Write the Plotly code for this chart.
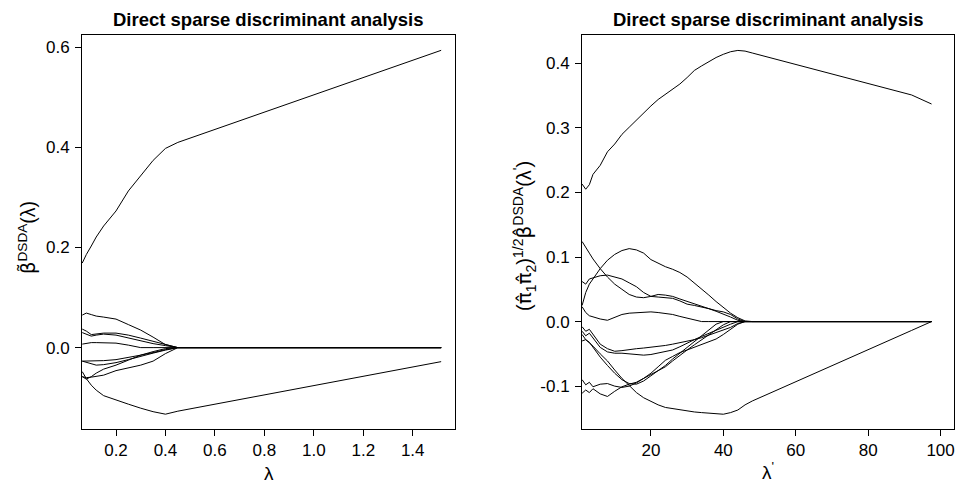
import plotly.graph_objects as go

# ---------------- Left panel data ----------------
lam1 = [0.0635, 0.08, 0.1, 0.12, 0.15, 0.2, 0.25, 0.3, 0.35, 0.4, 0.45, 1.515]
left_top = [0.169, 0.186, 0.203, 0.221, 0.243, 0.273, 0.313, 0.344, 0.374, 0.398, 0.410, 0.594]
left_bottom = [-0.048, -0.062, -0.075, -0.085, -0.096, -0.105, -0.113, -0.121, -0.128, -0.133, -0.127, -0.028]
left_s1 = [0.065, 0.069, 0.066, 0.063, 0.061, 0.057, 0.046, 0.035, 0.021, 0.006, 0.0, 0.0]
left_s2 = [0.037, 0.033, 0.026, 0.027, 0.029, 0.029, 0.025, 0.019, 0.013, 0.007, 0.0, 0.0]
left_s3 = [0.030, 0.027, 0.023, 0.025, 0.027, 0.025, 0.019, 0.013, 0.008, 0.004, 0.0, 0.0]
left_s4 = [0.007, 0.009, 0.010, 0.010, 0.010, 0.009, 0.005, 0.0, 0.0, 0.0, 0.0, 0.0]
left_s5 = [-0.027, -0.027, -0.027, -0.027, -0.026, -0.024, -0.020, -0.015, -0.010, -0.004, 0.0, 0.0]
left_s6 = [-0.027, -0.029, -0.032, -0.035, -0.034, -0.030, -0.024, -0.017, -0.011, -0.005, 0.0, 0.0]
left_s7 = [-0.058, -0.063, -0.058, -0.051, -0.043, -0.035, -0.025, -0.015, -0.008, -0.002, 0.0, 0.0]
left_s8 = [-0.058, -0.060, -0.059, -0.057, -0.055, -0.046, -0.040, -0.035, -0.027, -0.012, 0.0, 0.0]
left_series = [left_top, left_bottom, left_s1, left_s2, left_s3, left_s4,
               left_s5, left_s6, left_s7, left_s8]

# ---------------- Right panel data ----------------
lam2 = [1, 2, 3, 4, 6, 8, 10, 12, 14, 16, 18, 20, 22, 24, 26, 28, 30, 32, 34, 36,
        38, 40, 42, 44, 46, 48, 92, 97.5]
right_top = [0.213, 0.205, 0.212, 0.228, 0.242, 0.263, 0.275, 0.290, 0.301, 0.312, 0.324, 0.334,
             0.344, 0.352, 0.360, 0.368, 0.378, 0.389, 0.396, 0.403, 0.409, 0.414, 0.418, 0.420,
             0.419, 0.416, 0.351, 0.337]
right_H = [-0.020, -0.028, -0.033, -0.038, -0.050, -0.061, -0.075, -0.088, -0.099, -0.110, -0.118,
           -0.124, -0.129, -0.133, -0.135, -0.137, -0.139, -0.140, -0.141, -0.142, -0.143, -0.1435,
           -0.141, -0.137, -0.129, -0.123, -0.0137, 0.0]
right_A = [0.124, 0.116, 0.106, 0.097, 0.082, 0.069, 0.058, 0.050, 0.042, 0.038, 0.037, 0.039,
           0.042, 0.041, 0.039, 0.035, 0.031, 0.027, 0.024, 0.020, 0.017, 0.015, 0.011, 0.004,
           0.0, 0.0, 0.0, 0.0]
right_B = [0.062, 0.058, 0.066, 0.068, 0.071, 0.072, 0.069, 0.066, 0.060, 0.054, 0.045, 0.039,
           0.038, 0.037, 0.036, 0.032, 0.027, 0.025, 0.023, 0.020, 0.016, 0.012, 0.007, 0.002,
           0.0, 0.0, 0.0, 0.0]
right_C = [0.025, 0.045, 0.058, 0.066, 0.082, 0.095, 0.104, 0.110, 0.113, 0.111, 0.106, 0.096,
           0.090, 0.085, 0.081, 0.076, 0.069, 0.060, 0.051, 0.041, 0.031, 0.022, 0.013, 0.006,
           0.001, 0.0, 0.0, 0.0]
right_D = [0.023, 0.014, 0.009, 0.007, 0.004, 0.002, 0.006, 0.011, 0.013, 0.014, 0.015, 0.015,
           0.014, 0.013, 0.011, 0.008, 0.005, 0.002, 0.0, 0.0, 0.0, 0.0, 0.0, 0.0,
           0.0, 0.0, 0.0, 0.0]
right_E = [-0.008, -0.015, -0.012, -0.020, -0.035, -0.042, -0.046, -0.045, -0.043, -0.042, -0.041,
           -0.040, -0.039, -0.037, -0.035, -0.033, -0.030, -0.028, -0.025, -0.021, -0.018, -0.014,
           -0.009, -0.003, 0.0, 0.0, 0.0, 0.0]
right_F = [-0.015, -0.022, -0.018, -0.026, -0.040, -0.047, -0.049, -0.049, -0.050, -0.051, -0.052,
           -0.051, -0.049, -0.047, -0.044, -0.039, -0.033, -0.028, -0.023, -0.018, -0.013, -0.008,
           -0.004, 0.0, 0.0, 0.0, 0.0, 0.0]
right_G = [-0.030, -0.028, -0.032, -0.040, -0.055, -0.068, -0.080, -0.090, -0.096, -0.097, -0.092,
           -0.084, -0.076, -0.068, -0.058, -0.049, -0.039, -0.030, -0.021, -0.012, -0.004, 0.0,
           0.0, 0.0, 0.0, 0.0, 0.0, 0.0]
right_I1 = [-0.090, -0.098, -0.094, -0.101, -0.097, -0.096, -0.100, -0.102, -0.100, -0.095, -0.088,
            -0.082, -0.076, -0.070, -0.061, -0.052, -0.044, -0.036, -0.028, -0.021, -0.012, -0.005,
            0.0, 0.0, 0.0, 0.0, 0.0, 0.0]
right_I2 = [-0.111, -0.106, -0.110, -0.104, -0.112, -0.116, -0.108, -0.101, -0.097, -0.094, -0.088,
            -0.080, -0.070, -0.060, -0.054, -0.048, -0.044, -0.040, -0.036, -0.032, -0.027, -0.020,
            -0.012, -0.004, 0.0, 0.0, 0.0, 0.0]
right_series = [right_top, right_H, right_A, right_B, right_C, right_D,
                right_E, right_F, right_G, right_I1, right_I2]

# tick labels
left_xticks = [0.2, 0.4, 0.6, 0.8, 1.0, 1.2, 1.4]
left_xlabels = ["0.2", "0.4", "0.6", "0.8", "1.0", "1.2", "1.4"]
left_yticks = [0.0, 0.2, 0.4, 0.6]
left_ylabels = ["0.0", "0.2", "0.4", "0.6"]
right_xticks = [20, 40, 60, 80, 100]
right_xlabels = ["20", "40", "60", "80", "100"]
right_yticks = [-0.1, 0.0, 0.1, 0.2, 0.3, 0.4]
right_ylabels = ["-0.1", "0.0", "0.1", "0.2", "0.3", "0.4"]

title_text = "Direct sparse discriminant analysis"

W, H = 958, 489


def X(px):  # window px -> paper x
    return px / W


top_px, bot_px = 35, 429
ph = bot_px - top_px


def Y(px):  # window px -> paper y (relative to plot area)
    return (bot_px - px) / ph


fig = go.Figure()
for s in left_series:
    fig.add_trace(go.Scatter(x=lam1, y=s, mode="lines", line=dict(color="black", width=1),
                             xaxis="x", yaxis="y", showlegend=False, hoverinfo="skip"))
for s in right_series:
    fig.add_trace(go.Scatter(x=lam2, y=s, mode="lines", line=dict(color="black", width=1),
                             xaxis="x2", yaxis="y2", showlegend=False, hoverinfo="skip"))

FONT = "Liberation Sans, Arial, sans-serif"
axis_common = dict(showline=True, mirror=True, linecolor="black", linewidth=1,
                   ticks="outside", ticklen=6, tickwidth=1, tickcolor="black",
                   showgrid=False, zeroline=False,
                   tickfont=dict(family=FONT, size=17, color="black"))

fig.update_layout(
    width=W, height=H,
    margin=dict(l=0, r=0, t=top_px, b=H - bot_px),
    paper_bgcolor="white", plot_bgcolor="white",
    xaxis=dict(domain=[X(82), X(455)], range=[0.0625, 1.571], tickvals=left_xticks,
               ticktext=left_xlabels, anchor="y", ticklabelstandoff=0, **axis_common),
    yaxis=dict(domain=[0, 1], range=[-0.1626, 0.6246], tickvals=left_yticks,
               ticktext=left_ylabels, anchor="x", ticklabelstandoff=2, **axis_common),
    xaxis2=dict(domain=[X(582), X(954)], range=[0.97, 103.7], tickvals=right_xticks,
                ticktext=right_xlabels, anchor="y2", ticklabelstandoff=0, **axis_common),
    yaxis2=dict(domain=[0, 1], range=[-0.1664, 0.4439], tickvals=right_yticks,
                ticktext=right_ylabels, anchor="x2", ticklabelstandoff=2, **axis_common),
)

ann = [
    dict(text="<b>" + title_text + "</b>", x=X(268.5), y=Y(20), font=dict(size=18.5)),
    dict(text="<b>" + title_text + "</b>", x=X(768), y=Y(20), font=dict(size=18.5)),
    dict(text="λ", x=X(268.5), y=Y(473), font=dict(size=19)),
    dict(text="λ<sup>'</sup>", x=X(768), y=Y(471), font=dict(size=19)),
    dict(text="<span style='font-family:DejaVu Sans'>β\u0303</span><sup>DSDA</sup>(λ)",
         x=X(28), y=Y(238), textangle=-90, font=dict(size=19.5)),
    dict(text="(<span style='font-family:DejaVu Sans'>π\u0302</span><sub>1</sub>"
              "<span style='font-family:DejaVu Sans'>π\u0302</span><sub>2</sub>)<sup>1/2</sup>"
              "<span style='font-family:DejaVu Sans'>β\u0302</span><sup>DSDA</sup>(λ<sup>'</sup>)",
         x=X(524), y=Y(236), textangle=-90, font=dict(size=20)),
]
for a in ann:
    a.update(xref="paper", yref="paper", showarrow=False, xanchor="center", yanchor="middle")
    a["font"].update(family=FONT, color="black")
fig.update_layout(annotations=ann)

# remove the default 8px page margin so the figure fills the window exactly
fig.write_html("out.html", config={"displayModeBar": False},
               post_script="document.body.style.margin='0';document.body.style.overflow='hidden';")
